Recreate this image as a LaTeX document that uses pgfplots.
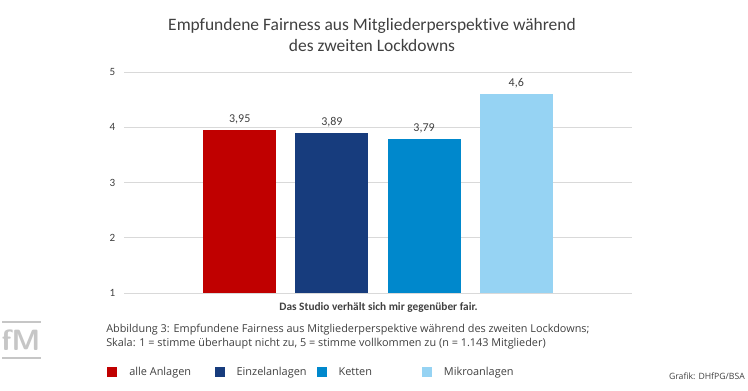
\documentclass[border=0pt]{standalone}
\usepackage{pgfplots}
\pgfplotsset{compat=1.18}
\usepackage{fontspec}
\setmainfont{Carlito}[Ligatures=NoCommon]
\newfontfamily\capfont{Open Sans}
\definecolor{cred}{HTML}{C00000}
\definecolor{cnavy}{HTML}{173C7D}
\definecolor{cblue}{HTML}{0088CC}
\definecolor{clight}{HTML}{96D3F3}
\definecolor{ctext}{HTML}{404040}
\definecolor{cgrid}{HTML}{D9D9D9}
\begin{document}
\begin{tikzpicture}[x=0.75pt,y=0.75pt]
\useasboundingbox (0,0) rectangle (748,390);
\node[anchor=base,text=ctext,font=\fontsize{13.1pt}{15pt}\selectfont] at (372,390-31) {Empfundene Fairness aus Mitgliederperspektive während};
\node[anchor=base,text=ctext,font=\fontsize{13.1pt}{15pt}\selectfont] at (372,390-51) {des zweiten Lockdowns};
\begin{axis}[
  at={(93pt,72.75pt)}, anchor=south west,
  scale only axis, width=381pt, height=165.75pt,
  xmin=-1.255, xmax=4.255, ymin=1, ymax=5,
  ytick={1,2,3,4,5}, xtick=\empty,
  ymajorgrids, grid style={cgrid, line width=0.75pt},
  axis line style={draw=none}, major tick length=0pt,
  yticklabel style={text=ctext, font=\fontsize{8.3pt}{10pt}\selectfont, xshift=-3pt},
  /pgf/number format/assume math mode=true,
  ybar, bar width=54.75pt,
  every axis plot/.append style={bar shift=0pt, draw=none},
  nodes near coords={\pgfmathprintnumber[use comma]{\pgfplotspointmeta}},
  every node near coord/.append style={text=ctext, font=\fontsize{9pt}{10pt}\selectfont, yshift=1pt},
  clip=false,
  legend columns=4,
  legend style={at={(-0.0335,-0.357)}, anchor=west, draw=none, fill=none, inner sep=0pt,
    font=\capfont\fontsize{8.2pt}{9pt}\selectfont, text=ctext,
    nodes={inner sep=0pt, anchor=west, text height=1.6ex, text depth=0.45ex}},
  legend image code/.code={\fill[#1] (0pt,-3.75pt) rectangle (7.5pt,3.75pt);},
]
\addplot[fill=cred] coordinates {(0,3.95)};
\addlegendentry{\hspace{9pt}\makebox[64pt][l]{alle Anlagen}}
\addplot[fill=cnavy] coordinates {(1,3.89)};
\addlegendentry{\hspace{9pt}\makebox[60pt][l]{Einzelanlagen}}
\addplot[fill=cblue] coordinates {(2,3.79)};
\addlegendentry{\hspace{9pt}\makebox[62.5pt][l]{Ketten}}
\addplot[fill=clight] coordinates {(3,4.6)};
\addlegendentry{\hspace{9pt}Mikroanlagen}
\end{axis}
\node[anchor=base,text=ctext,font=\bfseries\fontsize{8.5pt}{10pt}\selectfont] at (378.5,390-310) {Das Studio verhält sich mir gegenüber fair.};
\node[anchor=base west,inner sep=0pt,text=ctext,font=\capfont\fontsize{8.15pt}{9pt}\selectfont] at (106,390-332) {Abbildung 3: Empfundene Fairness aus Mitgliederperspektive während des zweiten Lockdowns;};
\node[anchor=base west,inner sep=0pt,text=ctext,font=\capfont\fontsize{8.15pt}{9pt}\selectfont] at (106,390-346) {Skala: 1 = stimme überhaupt nicht zu, 5 = stimme vollkommen zu (n = 1.143 Mitglieder)};
\node[anchor=base east,inner sep=0pt,text=ctext,font=\capfont\fontsize{6.5pt}{7pt}\selectfont] at (745,390-379) {Grafik: DHfPG/BSA};
% fM logo
\draw[gray!45, line width=1.2pt] (2,390-322) -- (41,390-322);
\draw[gray!45, line width=1.2pt] (2,390-358) -- (41,390-358);
\node[text=gray!45, font=\sffamily\bfseries\fontsize{22pt}{22pt}\selectfont, inner sep=0pt] at (21,390-340) {fM};
\end{tikzpicture}
\end{document}
